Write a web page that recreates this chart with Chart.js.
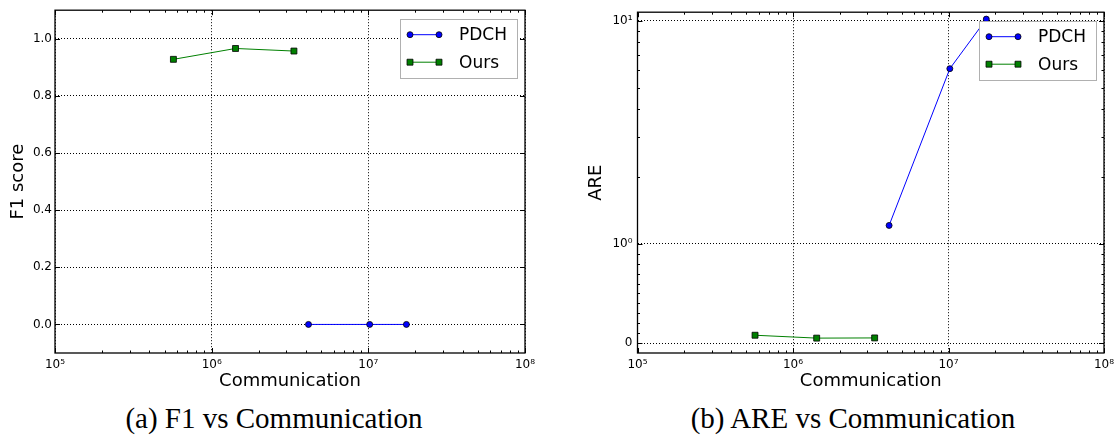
<!DOCTYPE html>
<html>
<head>
<meta charset="utf-8">
<script src="https://cdn.jsdelivr.net/npm/chart.js@4.4.0/dist/chart.umd.min.js"></script>
<style>
  html, body { margin: 0; padding: 0; background: #fff; }
  #wrap { position: relative; width: 1120px; height: 444px; overflow: hidden; }
  .pane { position: absolute; top: 0; width: 560px; height: 400px; }
  .cap { position: absolute; top: 404px; width: 400px; text-align: center; white-space: nowrap;
         font: 29px/29px "Liberation Serif", serif; color: #000; }
</style>
</head>
<body>
<div id="wrap">
  <div class="pane" style="left:0"><canvas id="c-f1" width="560" height="400"></canvas></div>
  <div class="pane" style="left:560px"><canvas id="c-are" width="560" height="400"></canvas></div>
  <div class="cap" style="left:74px">(a) F1 vs Communication</div>
  <div class="cap" style="left:653px">(b) ARE vs Communication</div>
</div>
<script>
/* ===== data ===== */
const COMM_PDCH = [4.15e6, 1.02e7, 1.75e7];
const COMM_OURS = [5.7e5, 1.42e6, 3.35e6];
const F1_PDCH = [0, 0, 0];
const F1_OURS = [0.928, 0.966, 0.957];
const ARE_PDCH = [1.21, 6.09, 10.15];
const ARE_OURS = [0.079, 0.05, 0.052];

const X_TICKS = [1e5, 1e6, 1e7, 1e8];
const X_TICK_LABELS = ["10⁵", "10⁶", "10⁷", "10⁸"];
const F1_TICKS = [0, 0.2, 0.4, 0.6, 0.8, 1.0];
const ARE_TICKS = [0, 1, 10];
const ARE_TICK_LABELS = ["0", "10⁰", "10¹"];

Chart.defaults.font.family = "'DejaVu Sans', sans-serif";
Chart.defaults.color = "#000";

/* symlog axis (linear below 1, log above), like matplotlib's */
const LIN = 0.444;
const symT = (v) => Math.abs(v) <= 1 ? v * LIN : Math.sign(v) * (LIN + Math.log10(Math.abs(v)));
const symInv = (t) => Math.abs(t) <= LIN ? t / LIN : Math.sign(t) * Math.pow(10, Math.abs(t) - LIN);

class SymlogScale extends Chart.Scale {
  determineDataLimits() { this.min = this.options.min; this.max = this.options.max; }
  buildTicks() { return ARE_TICKS.map((v) => ({ value: v })); }
  configure() { super.configure(); this._t0 = symT(this.min); this._t1 = symT(this.max); }
  getLabelForValue(v) { return String(v); }
  getPixelForValue(v) { return this.getPixelForDecimal((symT(v) - this._t0) / (this._t1 - this._t0)); }
  getValueForPixel(p) { return symInv(this._t0 + this.getDecimalForPixel(p) * (this._t1 - this._t0)); }
}
SymlogScale.id = "symlog";
SymlogScale.defaults = {};
Chart.register(SymlogScale);

// minor tick values for the log x axis: 2..9 per decade
const X_MINOR = [];
X_TICKS.slice(0, -1).forEach((d) => { for (let m = 2; m <= 9; m++) X_MINOR.push(m * d); });
const ARE_MINOR = [];
for (let m = 1; m <= 9; m++) { ARE_MINOR.push(m / 10); ARE_MINOR.push(m + 1); }

/* frame on all four sides + inward ticks (classic matplotlib look) */
const frameTicks = {
  id: "frameTicks",
  beforeDatasetsDraw(chart, args, o) {
    const { ctx, chartArea: a, scales: { x, y } } = chart;
    ctx.save();
    ctx.strokeStyle = "#000"; ctx.lineWidth = 1;
    const seg = (x0, y0, x1, y1) => { ctx.beginPath(); ctx.moveTo(x0, y0); ctx.lineTo(x1, y1); ctx.stroke(); };
    const tx = (v, len) => { const p = Math.round(x.getPixelForValue(v)) + 0.5; seg(p, a.bottom, p, a.bottom - len); seg(p, a.top, p, a.top + len); };
    const ty = (v, len) => { const p = Math.round(y.getPixelForValue(v)) + 0.5; seg(a.left, p, a.left + len, p); seg(a.right, p, a.right - len, p); };
    X_TICKS.forEach((v) => tx(v, 5));
    X_MINOR.forEach((v) => tx(v, 2.5));
    y.ticks.forEach((t) => ty(t.value, 5));
    (o.yMinor || []).forEach((v) => ty(v, 2.5));
    ctx.lineWidth = 1.3;
    ctx.strokeRect(a.left, a.top, a.right - a.left, a.bottom - a.top);
    ctx.restore();
  },
};

/* boxed legend inside the plot, upper right */
const legendBox = {
  id: "legendBox",
  afterDraw(chart) {
    const { ctx, chartArea: a } = chart;
    const w = 117, h = 59, x = a.right - 8 - w, y = a.top + 9;
    const rows = [15.5, 43];
    ctx.save();
    ctx.fillStyle = "#fff"; ctx.fillRect(x, y, w, h);
    ctx.strokeStyle = "#b0b0b0"; ctx.lineWidth = 1; ctx.strokeRect(Math.round(x) + 0.5, Math.round(y) + 0.5, w, h);
    chart.data.datasets.forEach((ds, i) => {
      const cy = y + rows[i], x0 = x + 10, x1 = x0 + 29;
      ctx.strokeStyle = ds.borderColor; ctx.lineWidth = ds.borderWidth;
      ctx.beginPath(); ctx.moveTo(x0, cy); ctx.lineTo(x1, cy); ctx.stroke();
      [x0, x1].forEach((px) => {
        ctx.fillStyle = ds.pointBackgroundColor; ctx.strokeStyle = ds.pointBorderColor; ctx.lineWidth = ds.pointBorderWidth;
        ctx.beginPath();
        if (ds.pointStyle === "rect") { const s = ds.pointRadius * Math.SQRT1_2; ctx.rect(px - s, cy - s, 2 * s, 2 * s); }
        else ctx.arc(px, cy, ds.pointRadius, 0, Math.PI * 2);
        ctx.fill(); ctx.stroke();
      });
      ctx.fillStyle = "#000"; ctx.font = "17px 'DejaVu Sans'"; ctx.textBaseline = "middle";
      ctx.fillText(ds.label, x + 59, cy + 1);
    });
    ctx.restore();
  },
};

function series(label, xs, ys, color, style, r) {
  return {
    label, data: xs.map((x, i) => ({ x, y: ys[i] })),
    borderColor: color, borderWidth: 1, showLine: true, fill: false, tension: 0,
    pointStyle: style, pointRadius: r, pointHoverRadius: r,
    pointBackgroundColor: color, pointBorderColor: "#000", pointBorderWidth: 0.8, clip: false,
  };
}

const grid = { color: "#000", lineWidth: 1, drawTicks: false };
const border = { display: false, dash: [1, 2] };

function xScale() {
  return {
    type: "logarithmic", min: 1e5, max: 1e8, bounds: "data",
    afterBuildTicks: (s) => { s.ticks = X_TICKS.map((v) => ({ value: v, major: true })); },
    afterFit: (s) => { s.height = 47; },
    ticks: { callback: (v, i) => X_TICK_LABELS[i], font: { size: 12 }, padding: 5, maxRotation: 0, autoSkip: false },
    grid, border,
    title: { display: true, text: "Communication", font: { size: 18 }, padding: { top: 0, bottom: 8 } },
  };
}

function makeChart(id, datasets, yScale, padRight, yMinor) {
  return new Chart(document.getElementById(id), {
    type: "scatter",
    data: { datasets },
    options: {
      responsive: false, animation: false, events: [],
      layout: { padding: { left: 0, right: padRight, top: 6, bottom: 0 } },
      plugins: { legend: { display: false }, tooltip: { enabled: false }, frameTicks: { yMinor } },
      scales: { x: xScale(), y: yScale },
    },
    plugins: [frameTicks, legendBox],
  });
}

makeChart("c-f1", [
  series("PDCH", COMM_PDCH, F1_PDCH, "#0000ff", "circle", 3),
  series("Ours", COMM_OURS, F1_OURS, "#008000", "rect", 4.2),
], {
  type: "linear", min: -0.1, max: 1.1, bounds: "data",
  afterBuildTicks: (s) => { s.ticks = F1_TICKS.map((v) => ({ value: v })); },
  afterFit: (s) => { s.width = 55; },
  ticks: { callback: (v) => v.toFixed(1), font: { size: 12 }, padding: 3 },
  grid, border,
  title: { display: true, text: "F1 score", font: { size: 18 }, padding: { top: 8, bottom: 0 } },
}, 35, []);

makeChart("c-are", [
  series("PDCH", COMM_PDCH, ARE_PDCH, "#0000ff", "circle", 3),
  series("Ours", COMM_OURS, ARE_OURS, "#008000", "rect", 4.2),
], {
  type: "symlog", position: "left", min: -0.1, max: 10.9,
  afterFit: (s) => { s.width = 77.5; },
  ticks: { callback: (v, i) => ARE_TICK_LABELS[i], font: { size: 12 }, padding: 5 },
  grid, border,
  title: { display: true, text: "ARE", font: { size: 18 }, padding: { top: 26, bottom: 0 } },
}, 16, ARE_MINOR);
</script>
</body>
</html>
